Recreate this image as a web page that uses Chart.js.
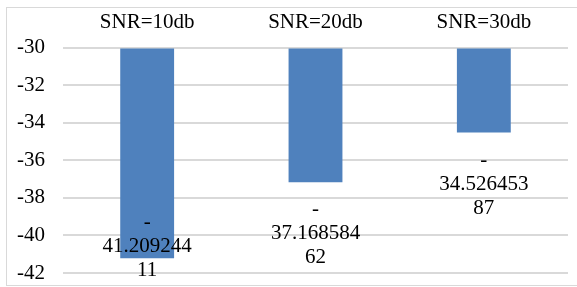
<!DOCTYPE html>
<html>
<head>
<meta charset="utf-8">
<script src="https://cdn.jsdelivr.net/npm/chart.js@4.4.1/dist/chart.umd.min.js"></script>
<style>
  html, body { margin: 0; padding: 0; background: #fff; }
  #wrap { position: relative; width: 577px; height: 287px; }
  #frame { position: absolute; left: 6px; top: 7px; width: 580px; height: 279px; border: 1px solid #d9d9d9; box-sizing: border-box; }
  canvas { position: absolute; left: 0; top: 0; }
</style>
</head>
<body>
<div id="wrap">
  <div id="frame"></div>
  <canvas id="snr-chart" width="577" height="287"></canvas>
</div>
<script>
// chart data
const categories = ['SNR=10db', 'SNR=20db', 'SNR=30db'];
const values = [-41.20924411, -37.16858462, -34.52645387];
const baseValue = -30;
const yMin = -42, yMax = -30, yStep = 2;

const serif = '"Liberation Serif", "Times New Roman", serif';

// data labels, wrapped like the original (sign, 9 chars, rest)
const valueLabels = {
  id: 'valueLabels',
  afterDatasetsDraw(chart) {
    const ctx = chart.ctx;
    const meta = chart.getDatasetMeta(0);
    ctx.save();
    ctx.font = '21px ' + serif;
    ctx.fillStyle = '#000';
    ctx.textAlign = 'center';
    ctx.textBaseline = 'middle';
    meta.data.forEach(function (bar, i) {
      const s = String(values[i]);
      const digits = s.slice(1);
      const lines = ['-', digits.slice(0, 9), digits.slice(9)];
      let y = Math.min(bar.y + 27.5, 222);
      lines.forEach(function (t, k) {
        ctx.fillText(t, bar.x, y + k * 24);
      });
    });
    ctx.restore();
  }
};

const snrctx = document.getElementById('snr-chart').getContext('2d');
const snrChart = new Chart(snrctx, {
  type: 'bar',
  data: {
    labels: categories,
    datasets: [{
      data: values,
      base: baseValue,
      backgroundColor: '#4F81BD',
      barPercentage: 0.32,
      categoryPercentage: 1
    }]
  },
  options: {
    responsive: false,
    animation: false,
    layout: { padding: { left: 0, right: 9, top: 0, bottom: 14 } },
    plugins: {
      legend: { display: false },
      tooltip: { enabled: false }
    },
    scales: {
      x: {
        position: 'top',
        grid: { display: false, drawTicks: false },
        border: { display: false },
        ticks: { color: '#000', font: { family: serif, size: 21 }, padding: 12 },
        afterFit: function (scale) { scale.height = 47.5; }
      },
      y: {
        min: yMin,
        max: yMax,
        ticks: { stepSize: yStep, color: '#000', font: { family: serif, size: 21 }, padding: 18 },
        grid: { color: '#d9d9d9', lineWidth: 2, drawTicks: false },
        border: { display: false },
        afterFit: function (scale) {
          scale.width = 63;
          scale.paddingTop = 0;
          scale.paddingBottom = 0;
        }
      }
    }
  },
  plugins: [valueLabels]
});
</script>
</body>
</html>
